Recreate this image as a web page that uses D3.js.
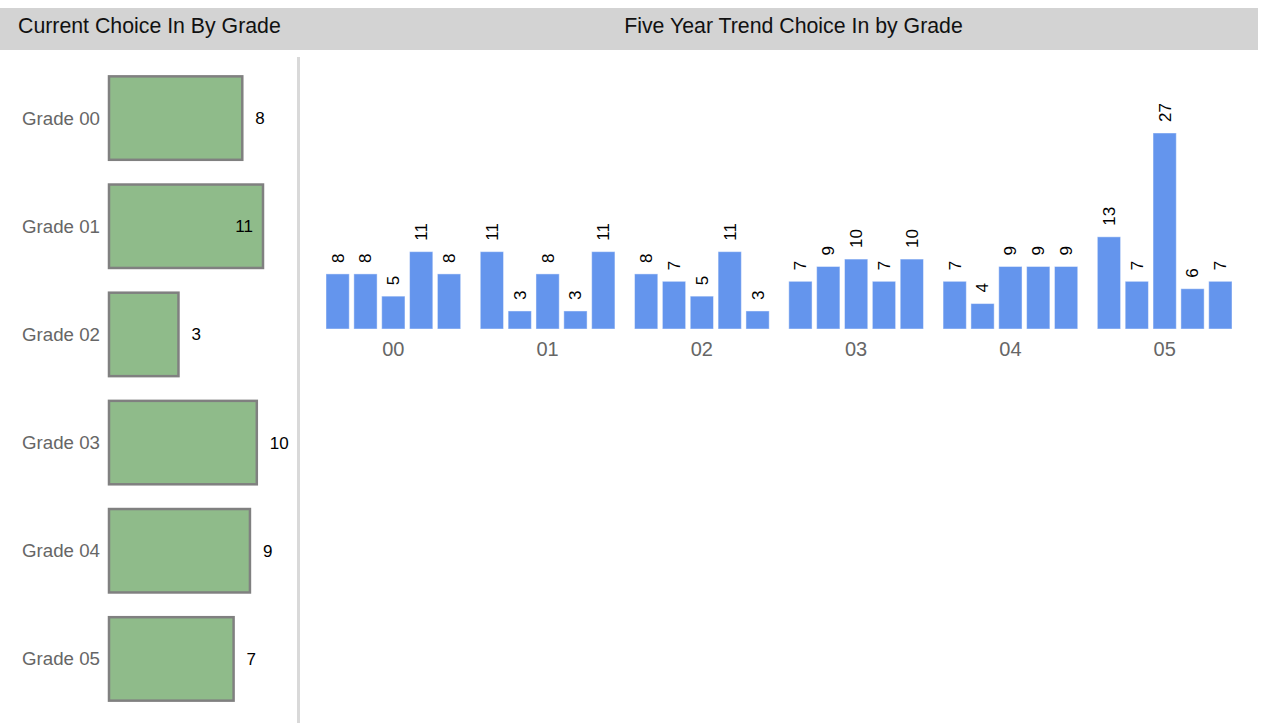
<!DOCTYPE html>
<html>
<head>
<meta charset="utf-8">
<script src="https://cdn.jsdelivr.net/npm/d3@7"></script>
<style>
  body { margin: 0; background: #fff; }
  svg { display: block; font-family: 'Liberation Sans', Arial, sans-serif; }
</style>
</head>
<body>
<svg id="chart" width="1262" height="726"></svg>
<script>
const grades = ['00', '01', '02', '03', '04', '05']
const currentValues = [8, 11, 3, 10, 9, 7]
const trendSlots = [0, 1, 2, 3, 4]
const trendValues = [
  [8, 8, 5, 11, 8],
  [11, 3, 8, 3, 11],
  [8, 7, 5, 11, 3],
  [7, 9, 10, 7, 10],
  [7, 4, 9, 9, 9],
  [13, 7, 27, 6, 7],
]
const leftTitle = 'Current Choice In By Grade'
const rightTitle = 'Five Year Trend Choice In by Grade'

const svg = d3.select('#chart')

// header band
svg.append('rect').attr('x', 0).attr('y', 8).attr('width', 1258).attr('height', 42).attr('fill', '#d3d3d3')
svg.append('text').attr('x', 18).attr('y', 33).attr('font-size', 21.3).attr('fill', '#111').text(leftTitle)
svg.append('text').attr('x', 793.5).attr('y', 33).attr('font-size', 21.3).attr('fill', '#111')
  .attr('text-anchor', 'middle').text(rightTitle)

// divider
svg.append('rect').attr('x', 297).attr('y', 57).attr('width', 3).attr('height', 666).attr('fill', '#d9d9d9')

// ---- left: current by grade ----
const yl = d3.scaleBand().domain(grades).range([64, 713]).paddingInner(0.21).paddingOuter(0.105)
const maxCur = d3.max(currentValues)
const xl = d3.scaleLog().domain([1, maxCur]).range([107, 263])
const leftData = grades.map((g, i) => ({ g, v: currentValues[i] }))

const left = svg.append('g')
left.selectAll('rect')
  .data(leftData)
  .join('rect')
  .attr('x', 109)
  .attr('y', (d) => yl(d.g) + 1)
  .attr('width', (d) => xl(d.v) - 109)
  .attr('height', yl.bandwidth() - 2)
  .attr('fill', '#8fbb8a')
  .attr('stroke', '#808080')
  .attr('stroke-width', 2.5)

left.selectAll('text.name')
  .data(leftData)
  .join('text')
  .attr('class', 'name')
  .attr('x', 100)
  .attr('y', (d) => yl(d.g) + yl.bandwidth() / 2)
  .attr('dy', '0.35em')
  .attr('text-anchor', 'end')
  .attr('font-size', 18.7)
  .attr('fill', '#666')
  .text((d) => 'Grade ' + d.g)

left.selectAll('text.val')
  .data(leftData)
  .join('text')
  .attr('class', 'val')
  .attr('x', (d) => (d.v === maxCur ? xl(d.v) - 10 : xl(d.v) + 13))
  .attr('y', (d) => yl(d.g) + yl.bandwidth() / 2)
  .attr('dy', '0.35em')
  .attr('text-anchor', (d) => (d.v === maxCur ? 'end' : 'start'))
  .attr('font-size', 17)
  .attr('fill', '#000')
  .text((d) => d.v)

// ---- right: five year trend ----
const x0 = d3.scaleBand().domain(grades).range([326, 1232]).paddingInner(0.127).paddingOuter(0)
const x1 = d3.scaleBand().domain(trendSlots).range([0, x0.bandwidth()]).paddingInner(0.165).paddingOuter(0)
const yr = d3.scaleLinear().domain([0.57, 27]).range([329, 133])

const groups = svg.append('g').selectAll('g')
  .data(grades.map((g, i) => ({ g, vals: trendValues[i] })))
  .join('g')
  .attr('transform', (d) => `translate(${x0(d.g)},0)`)

groups.selectAll('rect')
  .data((d) => d.vals.map((v, i) => ({ i, v })))
  .join('rect')
  .attr('x', (d) => x1(d.i))
  .attr('y', (d) => yr(d.v))
  .attr('width', x1.bandwidth())
  .attr('height', (d) => yr(yr.domain()[0]) - yr(d.v))
  .attr('fill', '#6495ed')
  .attr('stroke', '#fff')
  .attr('stroke-opacity', 0.45)
  .attr('stroke-width', 1)

groups.selectAll('text.val')
  .data((d) => d.vals.map((v, i) => ({ i, v })))
  .join('text')
  .attr('class', 'val')
  .attr('transform', (d) => `translate(${x1(d.i) + x1.bandwidth() / 2},${yr(d.v) - 11}) rotate(-90)`)
  .attr('dy', '0.35em')
  .attr('font-size', 17)
  .attr('fill', '#000')
  .text((d) => d.v)

groups.append('text')
  .attr('x', x0.bandwidth() / 2)
  .attr('y', 356)
  .attr('text-anchor', 'middle')
  .attr('font-size', 20)
  .attr('fill', '#666')
  .text((d) => d.g)
</script>
</body>
</html>
